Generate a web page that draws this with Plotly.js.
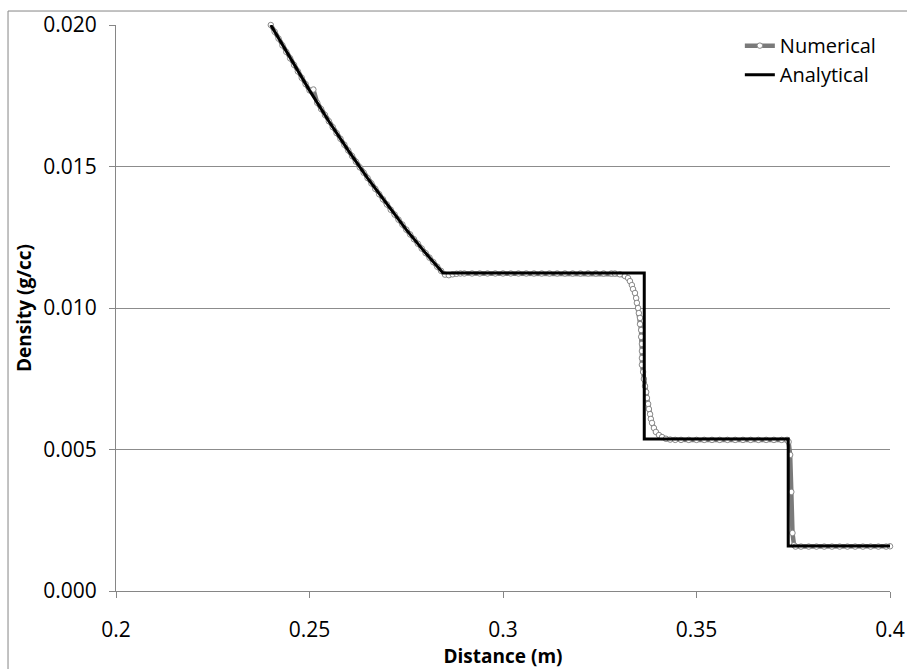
<!DOCTYPE html>
<html>
<head>
<meta charset="utf-8">
<script src="https://cdn.plot.ly/plotly-3.0.1.min.js"></script>
<style>
html,body{margin:0;padding:0;background:#fff;}
#chart{width:907px;height:669px;}
</style>
</head>
<body>
<div id="chart"></div>
<script>
// Analytical solution
const analyticalX = [0.240, 0.245, 0.250, 0.255, 0.260, 0.265, 0.270, 0.275, 0.280, 0.2845,
                     0.3365, 0.3365, 0.3737, 0.3737, 0.400];
const analyticalY = [0.02000, 0.01882, 0.01769, 0.01660, 0.01557, 0.01459, 0.01366, 0.01277, 0.01194, 0.01124,
                     0.01124, 0.00537, 0.00537, 0.00159, 0.00159];

// Numerical solution
const numericalX = [
  0.240,0.241,0.242,0.243,0.244,0.245,0.246,0.247,0.248,0.249,
  0.250,0.251,0.252,0.253,0.254,0.255,0.256,0.257,0.258,0.259,
  0.260,0.261,0.262,0.263,0.264,0.265,0.266,0.267,0.268,0.269,
  0.270,0.271,0.272,0.273,0.274,0.275,0.276,0.277,0.278,0.279,
  0.280,0.281,0.282,0.283,0.284,0.285,0.286,0.287,0.288,0.289,
  0.290,0.292,0.294,0.296,0.298,0.300,0.302,0.304,0.306,0.308,
  0.310,0.312,0.314,0.316,0.318,0.320,0.322,0.324,0.326,0.328,
  0.3289,0.3302,0.3315,0.3323,0.3328,0.3333,0.3336,0.3341,0.3344,0.3346,
  0.3349,0.3351,0.3354,0.3354,0.3357,0.3357,0.3359,0.3359,0.3359,0.3359,
  0.3362,0.3364,0.3367,0.3370,0.3372,0.3375,0.3377,0.3380,0.3382,0.3385,
  0.3390,0.3395,0.3403,0.3411,0.3421,0.3432,0.3445,0.346,0.348,0.350,
  0.352,0.354,0.356,0.358,0.360,0.362,0.364,0.366,0.368,0.370,
  0.372,0.3734,0.3738,0.3742,0.3745,0.3748,0.3752,0.3756,0.377,0.379,
  0.381,0.383,0.385,0.387,0.389,0.391,0.393,0.395,0.397,0.399,0.400
];
const numericalY = [
  0.02000,0.01976,0.01952,0.01928,0.01905,0.01882,0.01859,0.01836,0.01813,0.01791,
  0.01769,0.01772,0.01725,0.01703,0.01682,0.01660,0.01639,0.01618,0.01598,0.01577,
  0.01557,0.01537,0.01517,0.01497,0.01478,0.01459,0.01440,0.01421,0.01402,0.01384,
  0.01366,0.01347,0.01330,0.01312,0.01295,0.01277,0.01260,0.01243,0.01227,0.01210,
  0.01194,0.01178,0.01162,0.01146,0.01131,0.01118,0.01116,0.01119,0.01121,0.01122,
  0.01122,0.01122,0.01122,0.01122,0.01122,0.01122,0.01122,0.01122,0.01122,0.01122,
  0.01122,0.01122,0.01122,0.01122,0.01122,0.01122,0.01122,0.01122,0.01122,0.01122,
  0.01122,0.01119,0.01113,0.01106,0.01095,0.01081,0.01067,0.01053,0.01035,0.01018,
  0.01000,0.00982,0.00965,0.00943,0.00922,0.00898,0.00873,0.00848,0.00823,0.00799,
  0.00774,0.00749,0.00724,0.00703,0.00682,0.00661,0.00643,0.00625,0.00608,0.00594,
  0.00576,0.00562,0.00551,0.00544,0.00538,0.00535,0.00534,0.00534,0.00534,0.00534,
  0.00534,0.00534,0.00534,0.00534,0.00534,0.00534,0.00534,0.00534,0.00534,0.00534,
  0.00534,0.00534,0.00527,0.00481,0.00350,0.00205,0.00162,0.00157,0.00157,0.00157,
  0.00157,0.00157,0.00157,0.00157,0.00157,0.00157,0.00157,0.00157,0.00157,0.00157,0.00158
];

const xTicks = [0.2, 0.25, 0.3, 0.35, 0.4];
const xTickText = ["0.2", "0.25", "0.3", "0.35", "0.4"];
const yTicks = [0.000, 0.005, 0.010, 0.015, 0.020];
const yTickText = ["0.000", "0.005", "0.010", "0.015", "0.020"];

const FONT = "Open Sans, Liberation Sans, sans-serif";
const AX = "#868686";

const traces = [
  {
    name: "Numerical", x: numericalX, y: numericalY, type: "scatter", mode: "lines+markers",
    line: {color: "#7a7a7a", width: 4.5},
    marker: {symbol: "circle", size: 5.5, color: "#ffffff", line: {color: "#8a8a8a", width: 1}},
    cliponaxis: false
  },
  {
    name: "Analytical", x: analyticalX, y: analyticalY, type: "scatter", mode: "lines",
    line: {color: "#000000", width: 3},
    cliponaxis: false
  }
];

const layout = {
  width: 907, height: 669,
  margin: {l: 116, r: 17, t: 25, b: 78, pad: 0},
  paper_bgcolor: "#ffffff", plot_bgcolor: "#ffffff",
  font: {family: FONT, size: 21, color: "#000000"},
  showlegend: true,
  legend: {
    x: 0.806, y: 0.998, xanchor: "left", yanchor: "top",
    bgcolor: "rgba(0,0,0,0)", borderwidth: 0,
    font: {family: FONT, size: 20, color: "#000000"},
    itemwidth: 30, tracegroupgap: 0
  },
  xaxis: {
    range: [0.2, 0.4], tickmode: "array", tickvals: xTicks, ticktext: xTickText,
    showgrid: false, zeroline: false, showline: true, linecolor: AX, linewidth: 1,
    ticks: "outside", ticklen: 6, tickcolor: AX, tickwidth: 1,
    ticklabelstandoff: 14,
    tickfont: {family: FONT, size: 21, color: "#000"},
    title: {text: "<b>Distance (m)</b>", font: {family: FONT, size: 19, color: "#000"}, standoff: 4}
  },
  yaxis: {
    range: [0, 0.02], tickmode: "array", tickvals: yTicks, ticktext: yTickText,
    showgrid: true, gridcolor: "#8c8c8c", gridwidth: 1,
    zeroline: false, showline: true, linecolor: AX, linewidth: 1,
    ticks: "outside", ticklen: 6, tickcolor: AX, tickwidth: 1,
    ticklabelstandoff: 8,
    tickfont: {family: FONT, size: 21, color: "#000"},
    title: {text: "<b>Density (g/cc)</b>", font: {family: FONT, size: 19, color: "#000"}, standoff: 6}
  },
  shapes: [
    {type: "rect", xref: "paper", yref: "paper",
     x0: -0.1395, x1: 1.5, y0: -0.3, y1: 1.0247,
     line: {color: AX, width: 1}, fillcolor: "rgba(0,0,0,0)", layer: "below"}
  ]
};

Plotly.newPlot("chart", traces, layout, {displayModeBar: false, staticPlot: true});
</script>
</body>
</html>
